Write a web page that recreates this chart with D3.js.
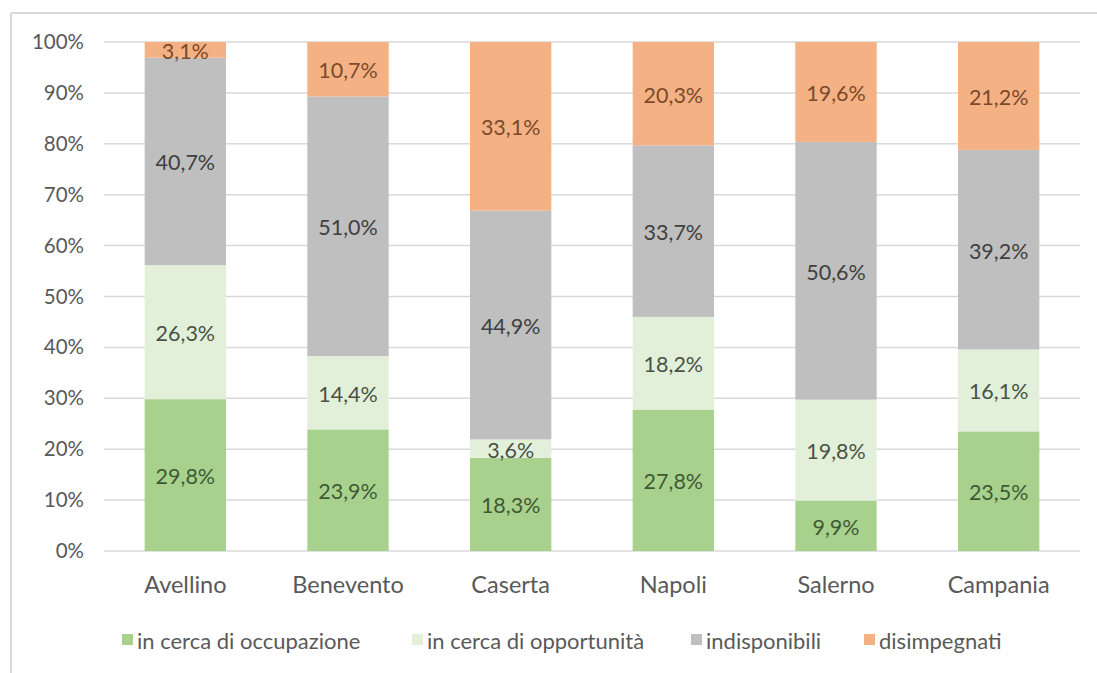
<!DOCTYPE html>
<html>
<head>
<meta charset="utf-8">
<script src="https://cdn.jsdelivr.net/npm/d3@7/dist/d3.min.js"></script>
<style>
  html, body { margin: 0; padding: 0; background: #fff; }
  svg { display: block; }
  text { font-family: Lato, "Open Sans", sans-serif; }
</style>
</head>
<body>
<svg id="chart" width="1097" height="673"></svg>
<script>
// Provinces of Campania plus the regional total
const categories = ["Avellino", "Benevento", "Caserta", "Napoli", "Salerno", "Campania"];

// Share of each group per territory (percent)
const occupazione   = [29.8, 23.9, 18.3, 27.8,  9.9, 23.5];
const opportunita   = [26.3, 14.4,  3.6, 18.2, 19.8, 16.1];
const indisponibili = [40.7, 51.0, 44.9, 33.7, 50.6, 39.2];
const disimpegnati  = [ 3.1, 10.7, 33.1, 20.3, 19.6, 21.2];

const seriesNames = ["in cerca di occupazione", "in cerca di opportunità", "indisponibili", "disimpegnati"];
const yTicks = [0, 10, 20, 30, 40, 50, 60, 70, 80, 90, 100];

const seriesValues = [occupazione, opportunita, indisponibili, disimpegnati];
const colors = ["#a9d18e", "#e2f0d9", "#bfbfbf", "#f4b183"];
const labelColors = ["#3f5a33", "#4a5247", "#404040", "#7b4a2c"];

const svg = d3.select("#chart");
const W = 1097, H = 673;

// outer chart frame (top and left edges visible)
svg.append("line").attr("x1", 11).attr("x2", W).attr("y1", 13).attr("y2", 13)
  .attr("stroke", "#d9d9d9").attr("stroke-width", 2);
svg.append("line").attr("x1", 11).attr("x2", 11).attr("y1", 13).attr("y2", H)
  .attr("stroke", "#d9d9d9").attr("stroke-width", 2);

const plotLeft = 104, plotRight = 1080, plotTop = 42, plotBottom = 551;

const x = d3.scaleBand().domain(categories).range([plotLeft, plotRight]).paddingInner(0.5).paddingOuter(0.25);
const y = d3.scaleLinear().domain([0, 100]).range([plotBottom, plotTop]);

// gridlines
svg.append("g").selectAll("line").data(yTicks).join("line")
  .attr("x1", plotLeft).attr("x2", plotRight)
  .attr("y1", d => y(d)).attr("y2", d => y(d))
  .attr("stroke", "#d9d9d9").attr("stroke-width", 1.5);

// y axis labels
const yAxis = d3.axisLeft(y).tickValues(yTicks).tickFormat(d => d + "%").tickSize(0).tickPadding(20);
const gy = svg.append("g").attr("transform", `translate(${plotLeft},0)`).call(yAxis);
gy.select(".domain").remove();
gy.selectAll("text").attr("font-size", 20.5).attr("fill", "#595959")
  .style("font-family", "Lato, sans-serif");

// normalize each bar to 100%
const rows = categories.map((c, i) => {
  const row = { cat: c };
  const total = d3.sum(seriesValues, s => s[i]);
  seriesNames.forEach((n, k) => { row[n] = seriesValues[k][i] / total * 100; row[n + "_raw"] = seriesValues[k][i]; });
  return row;
});
const stacked = d3.stack().keys(seriesNames)(rows);

const fmt = v => v.toFixed(1).replace(".", ",") + "%";

stacked.forEach((layer, k) => {
  const g = svg.append("g");
  g.selectAll("rect").data(layer).join("rect")
    .attr("x", d => x(d.data.cat))
    .attr("width", x.bandwidth())
    .attr("y", d => y(d[1]))
    .attr("height", d => y(d[0]) - y(d[1]))
    .attr("fill", colors[k]);
  g.selectAll("text").data(layer).join("text")
    .attr("x", d => x(d.data.cat) + x.bandwidth() / 2)
    .attr("y", d => (y(d[0]) + y(d[1])) / 2 + 1)
    .attr("text-anchor", "middle")
    .attr("dominant-baseline", "central")
    .attr("font-size", 21.5)
    .attr("fill", labelColors[k])
    .text(d => fmt(d.data[layer.key + "_raw"]));
});

// category axis
const xAxis = d3.axisBottom(x).tickSize(0).tickPadding(25);
const gx = svg.append("g").attr("transform", `translate(0,${plotBottom})`).call(xAxis);
gx.select(".domain").remove();
gx.selectAll("text").attr("font-size", 23.5).attr("fill", "#595959")
  .style("font-family", "Lato, sans-serif");

// legend
const legendX = [122, 412, 691, 864];
const lg = svg.append("g").selectAll("g").data(seriesNames).join("g")
  .attr("transform", (d, i) => `translate(${legendX[i]},640)`);
lg.append("rect").attr("x", 0).attr("y", -6).attr("width", 11).attr("height", 11)
  .attr("fill", (d, i) => colors[i]);
lg.append("text").attr("x", 15).attr("y", 0).attr("dominant-baseline", "central")
  .attr("font-size", 22).attr("fill", "#595959").text(d => d);
</script>
</body>
</html>
